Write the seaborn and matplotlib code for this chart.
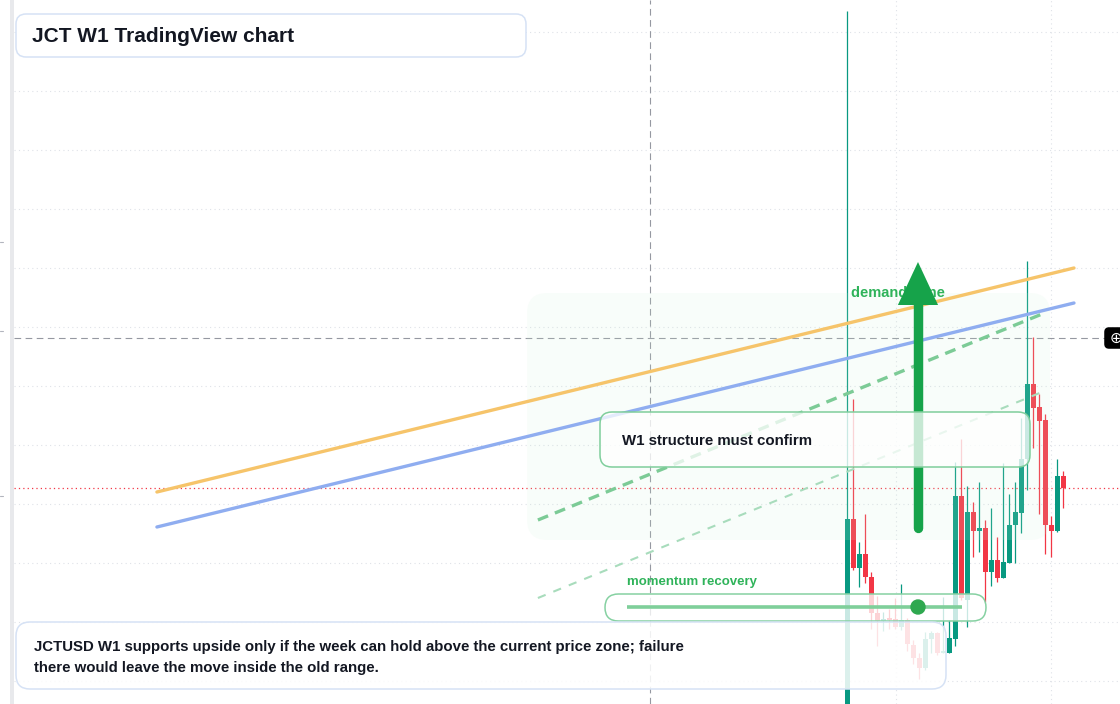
import numpy as np
import pandas as pd
import matplotlib
matplotlib.use("Agg")
import matplotlib.pyplot as plt
import matplotlib.transforms as mtransforms
from matplotlib.patches import FancyBboxPatch, Rectangle, Circle
import seaborn as sns

# weekly JCT candles (price scale not shown, arbitrary units)
opens  = [-0.16, 1.85, 1.36, 1.50, 1.27, 0.91, 0.83, 0.86, 0.85, 0.77, 0.84, 0.59, 0.46,
          0.36, 0.65, 0.71, 0.51, 0.51, 0.65, 2.08, 1.04, 1.92, 1.73, 1.76, 1.32, 1.44,
          1.26, 1.41, 1.79, 1.91, 2.45, 3.20, 2.97, 2.84, 1.79, 1.73, 2.28]
closes = [1.85, 1.36, 1.50, 1.27, 0.91, 0.83, 0.85, 0.84, 0.77, 0.84, 0.60, 0.46, 0.36,
          0.65, 0.71, 0.51, 0.53, 0.66, 2.08, 1.06, 1.92, 1.73, 1.76, 1.32, 1.44, 1.26,
          1.42, 1.79, 1.92, 2.45, 3.20, 2.96, 2.83, 1.79, 1.73, 2.28, 2.16]
highs  = [6.93, 3.05, 1.62, 1.90, 1.32, 1.08, 0.92, 0.95, 1.06, 1.20, 0.86, 0.64, 0.51,
          0.72, 0.73, 0.72, 1.07, 0.84, 2.42, 2.65, 2.18, 2.02, 2.22, 1.84, 1.96, 1.67,
          2.41, 2.10, 2.22, 2.86, 4.43, 3.67, 3.10, 2.90, 1.88, 2.45, 2.33]
lows   = [-0.26, 1.34, 1.17, 1.21, 0.75, 0.58, 0.73, 0.75, 0.75, 0.74, 0.53, 0.40, 0.25,
          0.34, 0.51, 0.49, 0.51, 0.51, 0.58, 1.04, 0.77, 1.47, 1.52, 1.02, 1.18, 1.22,
          1.26, 1.41, 1.41, 1.71, 2.14, 2.56, 1.90, 1.50, 1.47, 1.72, 1.96]

# drawings (bar index, price)
trend_x   = [-115.1, 37.75]
orange_y  = [2.12, 4.36]
blue_y    = [1.77, 4.01]
channel_x = [-51.6, 33.25]
upper_y   = [1.84, 3.92]
lower_y   = [1.06, 3.14]
zone_x = [-53.4, 33.75]
zone_y = [1.64, 4.11]
arrow_x = 11.75
arrow_y = [1.76, 4.42]

grid_y = [0.23, 0.82, 1.41, 2.00, 2.59, 3.18, 3.77, 4.36, 4.95, 5.54, 6.13, 6.72]
grid_x = [8.1, 33.9]
cross_x, cross_y = -32.9, 3.66

GREEN, RED = "#089981", "#f23645"
INK = "#131722"

sns.set_theme(style="white")
plt.rcParams["font.family"] = ["Liberation Sans", "DejaVu Sans"]

W, H = 1120, 704
fig = plt.figure(figsize=(W / 100, H / 100), dpi=100)
ax = fig.add_axes([14 / W, 0, 1 - 14 / W, 1])
pix = mtransforms.Affine2D().scale(1 / W, -1 / H).translate(0, 1) + fig.transFigure

ax.set_xlim(-138.92, 45.42)
ax.set_ylim(0, 7.04)
for s in ax.spines.values():
    s.set_visible(False)
ax.set_xticks(grid_x)
ax.set_yticks(grid_y)
ax.tick_params(length=0, labelbottom=False, labelleft=False)
ax.grid(True, color="#dfe2e8", lw=0.8, linestyle=(0, (1, 3)))

# crosshair + last price
ax.axvline(cross_x, color="#9598a1", lw=0.8, ls=(0, (6, 4)), zorder=2)
ax.axhline(cross_y, color="#9598a1", lw=0.8, ls=(0, (6, 4)), zorder=2)
ax.axhline(closes[-1], color=RED, lw=0.9, ls=(0, (1, 2.5)), zorder=2)

# candles
df = pd.DataFrame({"o": opens, "c": closes, "h": highs, "l": lows})
df["bar"] = np.arange(len(df))
cols = np.where(df.c >= df.o, GREEN, RED)
ax.vlines(df.bar, df.l, df.h, colors=cols, lw=0.9, zorder=3)
ax.bar(df.bar, np.maximum((df.c - df.o).abs(), 0.012), bottom=np.minimum(df.o, df.c),
       width=0.82, color=cols, linewidth=0, zorder=3)

# demand zone
zone = FancyBboxPatch((zone_x[0], zone_y[0]), zone_x[1] - zone_x[0], zone_y[1] - zone_y[0],
                      boxstyle=f"round,pad=0,rounding_size={20 / 6}", mutation_aspect=6 / 100,
                      fc=(0.80, 0.95, 0.85, 0.13), ec="none", zorder=4)
ax.add_patch(zone)
ax.text(851, 293, "demand zone", transform=pix, color="#2fb35a", fontsize=10.5,
        fontweight="bold", va="center", zorder=4.5)

# trend lines
sns.lineplot(x=trend_x, y=orange_y, ax=ax, color="#f6c46a", lw=2.4, zorder=5)
sns.lineplot(x=trend_x, y=blue_y, ax=ax, color="#8fadf0", lw=2.4, zorder=5)
sns.lineplot(x=channel_x, y=upper_y, ax=ax, color="#7ccb96", lw=2.4,
             linestyle=(0, (3.3, 2.2)), zorder=5)
sns.lineplot(x=channel_x, y=lower_y, ax=ax, color="#a8dcbc", lw=1.5,
             linestyle=(0, (4, 4)), zorder=5)

# arrow
head_len = 0.43
ax.plot([arrow_x, arrow_x], [arrow_y[0], arrow_y[1] - head_len], color="#16a34a",
        lw=6.8, solid_capstyle="round", zorder=5)
ax.fill([arrow_x - 3.35, arrow_x + 3.35, arrow_x], [arrow_y[1] - head_len] * 2 + [arrow_y[1]],
        color="#16a34a", lw=0, zorder=5)

# overlay boxes (screen pixels)
def box(x, y, w, h, r, fc, ec, alpha_fc, z):
    p = FancyBboxPatch((x, y), w, h, boxstyle=f"round,pad=0,rounding_size={r}",
                       transform=pix, fc=matplotlib.colors.to_rgba(fc, alpha_fc), ec=ec,
                       lw=1.1, clip_on=False, zorder=z)
    ax.add_patch(p)

box(600, 412, 430, 55, 12, "white", "#7fce9c", 0.76, 7)
ax.text(622, 441, "W1 structure must confirm", transform=pix, color=INK, fontsize=10.8,
        fontweight="bold", va="center", zorder=8)

box(605, 594, 381, 27, 13.5, "white", "#86d1a2", 0.78, 7)
ax.text(627, 582, "momentum recovery", transform=pix, color="#2fb35a", fontsize=9.5,
        fontweight="bold", va="center", zorder=8)
ax.plot([627, 962], [607, 607], transform=pix, color="#7fcf9a", lw=2.6, clip_on=False,
        solid_capstyle="butt", zorder=8)
ax.add_patch(Circle((918, 607), 7, transform=pix, color="#2ea84f", clip_on=False, zorder=9))

box(16, 622, 930, 67, 14, "white", "#d6e2f5", 0.86, 7)
ax.text(34, 657.5, "JCTUSD W1 supports upside only if the week can hold above the current price zone; failure\n"
        "there would leave the move inside the old range.", transform=pix, color=INK,
        fontsize=10.8, fontweight="bold", va="center", linespacing=1.6, zorder=8)

box(16, 14, 510, 43, 10, "white", "#d6e2f5", 1.0, 7)
ax.text(32, 36, "JCT W1 TradingView chart", transform=pix, color=INK, fontsize=15,
        fontweight="bold", va="center", zorder=8)

# left strip, tiny ticks, crosshair badge
fig.patches.append(Rectangle((10, 0), 4, H, transform=pix, color="#e8e9ec", lw=0))
for ty in [242, 331, 496]:
    fig.lines.append(plt.Line2D([0, 3], [ty, ty], transform=pix, color="#b2b5be", lw=0.8))
box(1105, 328, 24, 20, 4, "black", "black", 1.0, 9)
ax.text(1115.5, 338.5, "\u2295", transform=pix, color="white", fontsize=11, ha="center",
        va="center", family="DejaVu Sans", zorder=10, clip_on=False)

fig.savefig("out.png", dpi=100)
